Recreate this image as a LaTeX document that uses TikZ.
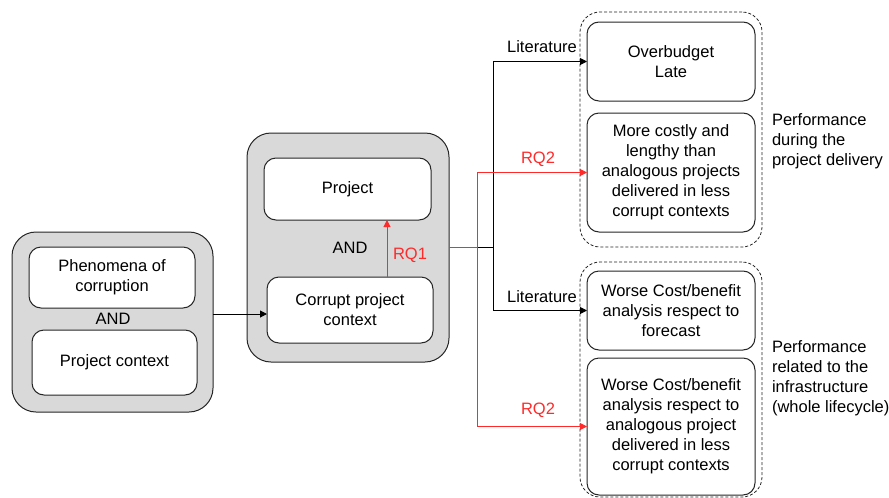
\documentclass[tikz,border=0pt]{standalone}
\usepackage{fontspec}
\setmainfont{Liberation Sans}
\usetikzlibrary{arrows.meta}
\definecolor{boxgray}{HTML}{D9D9D9}
\definecolor{rqred}{HTML}{FF2A2A}
\definecolor{edge}{HTML}{262626}
\begin{document}
\begin{tikzpicture}[x=1pt,y=-1pt,
  every node/.style={font=\fontsize{16.5}{20}\selectfont, inner sep=0pt, outer sep=0pt},
  outerbox/.style={draw=edge, line width=1pt, fill=boxgray, rounded corners=24pt},
  innerbox/.style={draw=edge, line width=1pt, fill=white, rounded corners=12pt, align=center},
  dashbox/.style={draw=edge, line width=0.8pt, dashed, dash pattern=on 3pt off 2pt, rounded corners=20pt},
  arr/.style={line width=1pt, -{Triangle[length=7pt,width=7pt]}},
  redarr/.style={arr, draw=rqred, color=rqred},
  lbl/.style={align=center},
  side/.style={align=left, anchor=west}
]
\useasboundingbox (0,0) rectangle (889,498);

% left group
\node[outerbox, minimum width=201pt, minimum height=180pt] (outerA) at (112.5,322) {};
\node[innerbox, minimum width=166pt, minimum height=61pt] (phen) at (112,277.5) {Phenomena of\\corruption};
\node[innerbox, minimum width=165pt, minimum height=65pt] (pctx) at (114.5,362.5) {Project context};
\node[lbl] (andA) at (113,318.5) {AND};

% middle group
\node[outerbox, minimum width=202pt, minimum height=229pt] (outerB) at (348,247.5) {};
\node[innerbox, minimum width=167pt, minimum height=62pt] (proj) at (347.5,189) {Project};
\node[innerbox, minimum width=166pt, minimum height=66pt] (cpc) at (350,310) {Corrupt project\\context};
\node[lbl] (andB) at (350,247.5) {AND};

% right top group
\node[dashbox, minimum width=182pt, minimum height=235pt] (dash1) at (671,129.5) {};
\node[innerbox, minimum width=168pt, minimum height=79pt] (over) at (671,61.5) {Overbudget\\Late};
\node[innerbox, minimum width=168pt, minimum height=119pt] (more) at (671,172.5) {More costly and\\lengthy than\\analogous projects\\delivered in less\\corrupt contexts};

% right bottom group
\node[dashbox, minimum width=182pt, minimum height=235pt] (dash2) at (671,379.5) {};
\node[innerbox, minimum width=168pt, minimum height=79pt] (worse1) at (671,310.5) {Worse Cost/benefit\\analysis respect to\\forecast};
\node[innerbox, minimum width=168pt, minimum height=137pt] (worse2) at (671,426.5) {Worse Cost/benefit\\analysis respect to\\analogous project\\delivered in less\\corrupt contexts};

% side labels
\node[side] (perf1) at (772,141) {Performance\\during the\\project delivery};
\node[side] (perf2) at (772,378) {Performance\\related to the\\infrastructure\\(whole lifecycle)};

% connector labels
\node[lbl] (lit1) at (542,46.5) {Literature};
\node[lbl] (lit2) at (542,296.5) {Literature};
\node[lbl, text=rqred] (rq2a) at (538,159.5) {RQ2};
\node[lbl, text=rqred] (rq2b) at (538,410.5) {RQ2};
\node[lbl, text=rqred] (rq1) at (410,255.5) {RQ1};

% coordinates
\coordinate (aY) at (0,314);
\coordinate (split) at (493,247);
\coordinate (rsplit) at (477,247);
\coordinate (rqx) at (387,0);

% connectors
\draw[arr] (outerA.east |- aY) -- (cpc.west |- aY);
\draw[arr] (outerB.east |- split) -- (split) |- (over.west);
\draw[arr] (split) |- (worse1.west);
\draw[redarr] (outerB.east |- rsplit) -- (rsplit) |- (more.west);
\draw[redarr] (rsplit) |- (worse2.west);
\draw[redarr] (cpc.north -| rqx) -- (proj.south -| rqx);
\end{tikzpicture}
\end{document}
